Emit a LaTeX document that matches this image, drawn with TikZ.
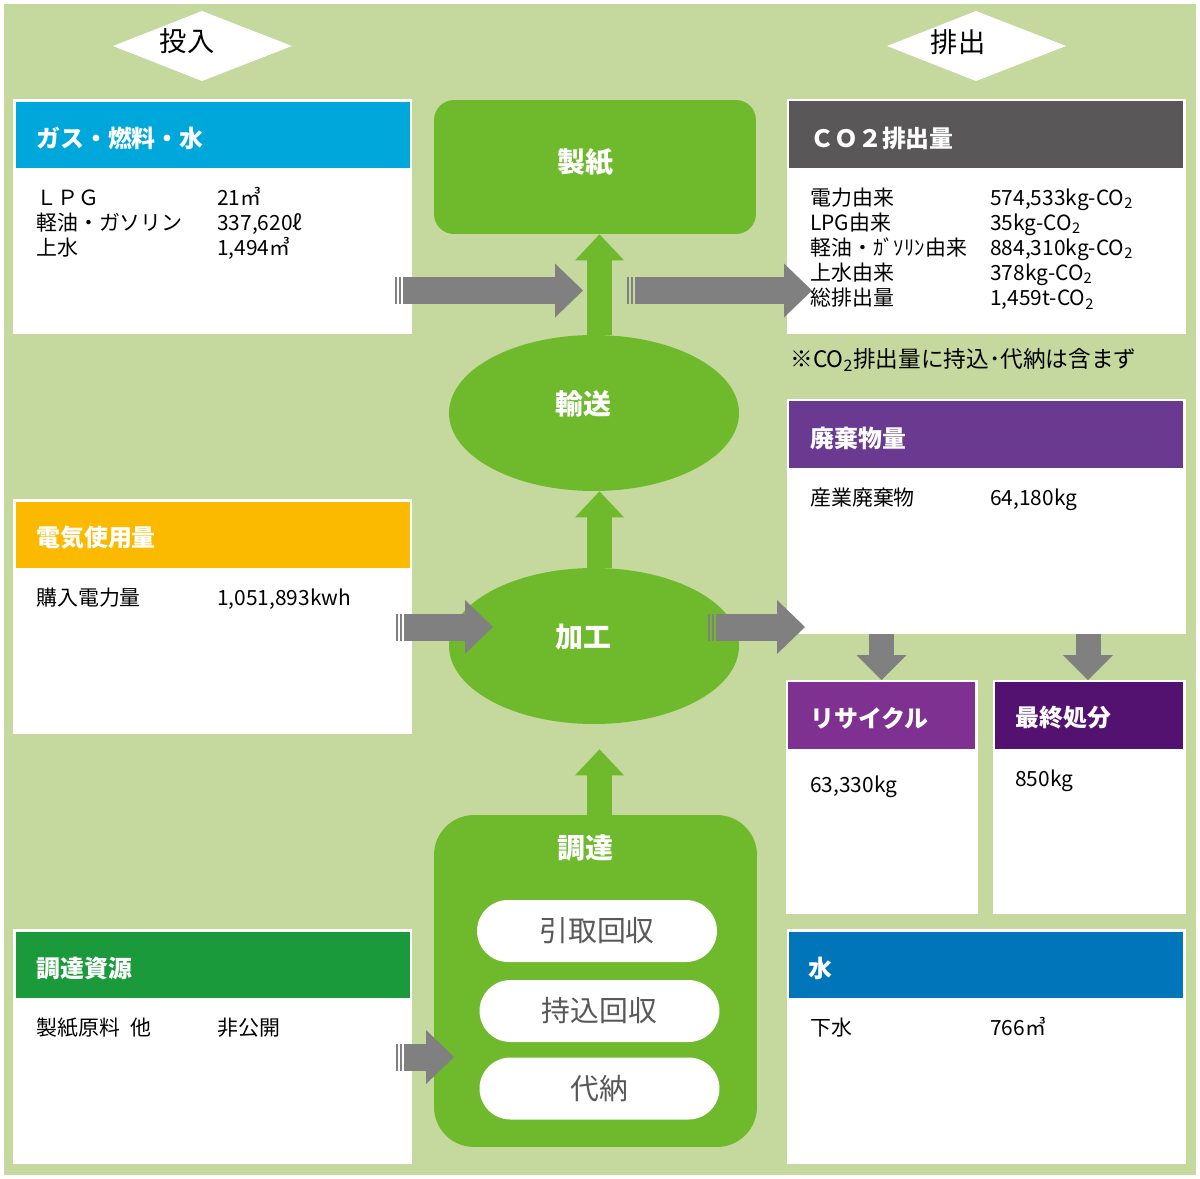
\documentclass[tikz,border=0pt]{standalone}
\usepackage{fontspec}
\setmainfont{Noto Sans CJK JP}
\usepackage{tikz}
\usetikzlibrary{shapes.geometric,arrows.meta,calc}

\definecolor{bggreen}{HTML}{C5D89E}
\definecolor{flowgreen}{HTML}{6FB92C}
\definecolor{arrgray}{HTML}{808080}
\definecolor{gasblue}{HTML}{00A7DB}
\definecolor{elecyellow}{HTML}{FBBA00}
\definecolor{resgreen}{HTML}{1B9A3C}
\definecolor{cogray}{HTML}{595757}
\definecolor{wastepurple}{HTML}{6A3990}
\definecolor{recyclepurple}{HTML}{7E3190}
\definecolor{finalpurple}{HTML}{541270}
\definecolor{waterblue}{HTML}{0075BA}
\definecolor{pilltext}{HTML}{595757}

\newcommand\txtbody{\fontsize{11.9}{14.3}\selectfont}
\newcommand\txthead{\fontsize{13.6}{16}\selectfont\bfseries}
\newcommand\txtcenter{\fontsize{15.9}{18}\selectfont\bfseries}
\newcommand\txtpill{\fontsize{16.4}{19}\selectfont}
\newcommand\txtdiamond{\fontsize{15.5}{18}\selectfont}
\newcommand\txtnote{\fontsize{12.9}{15}\selectfont}

% the striped tail of a gray arrow
\newcommand\tailstripes[1]{%
  \fill[arrgray] ($#1+(-8.5,-13.5)$) rectangle ($#1+(-6.3,13.5)$);
  \fill[arrgray] ($#1+(-4.5,-13.5)$) rectangle ($#1+(-2.2,13.5)$);}

\tikzset{
  grayarr/.style={draw=arrgray, line width=0.54cm, -{Triangle[length=0.56cm,width=1.08cm,line width=0pt]}},
  greenarr/.style={draw=flowgreen, line width=0.5cm, -{Triangle[length=0.52cm,width=0.98cm,line width=0pt]}},
  downarr/.style={draw=arrgray, line width=0.5cm, -{Triangle[length=0.5cm,width=1.0cm,line width=0pt]}},
  hdr/.style={anchor=west, inner sep=0, text=white, font=\txthead},
  body/.style={anchor=base west, inner sep=0, font=\txtbody},
  flow/.style={fill=flowgreen, inner sep=0},
  flowtitle/.style={text=white, font=\txtcenter, inner sep=0},
  pill/.style={fill=white, rounded corners=0.62cm, minimum width=4.8cm, minimum height=1.24cm, inner sep=0, text=pilltext, font=\txtpill},
}

\begin{document}
\begin{tikzpicture}[x=0.02cm,y=-0.02cm]
\useasboundingbox (0,0) rectangle (1200,1178);
\fill [white] (0,0) rectangle (1200,1178);
\fill [bggreen] (4,4) rectangle (1196,1175);

% heading diamonds
\fill [white] (113,46)--(202,11)--(292,46)--(202,81)--cycle;
\fill [white] (887,46)--(976,11)--(1066,46)--(976,81)--cycle;
\node [font=\txtdiamond, inner sep=0] (tonyu) at (187,41) {投入};
\node [font=\txtdiamond, inner sep=0] (haishutsu) at (958,42) {排出};

% input boxes
\fill [white] (13,99) rectangle (412,334);
\fill [gasblue] (16,102) rectangle (410,168);
\fill [white] (13,499) rectangle (412,734);
\fill [elecyellow] (16,502) rectangle (410,568);
\fill [white] (13,929) rectangle (412,1164);
\fill [resgreen] (16,932) rectangle (410,998);

% output boxes
\fill [white] (787,99) rectangle (1186,334);
\fill [cogray] (789,101) rectangle (1183,168);
\fill [white] (787,399) rectangle (1186,634);
\fill [wastepurple] (789,401) rectangle (1183,468);
\fill [white] (786,680) rectangle (978,914);
\fill [recyclepurple] (788,682) rectangle (975,749);
\fill [white] (993,680) rectangle (1186,914);
\fill [finalpurple] (995,682) rectangle (1183,749);
\fill [white] (787,929) rectangle (1186,1164);
\fill [waterblue] (789,932) rectangle (1183,998);

% the flow in the middle
\node [flow, rounded corners=0.4cm, minimum width=6.44cm, minimum height=2.68cm] (seishi) at (595,167) {};
\node [flow, ellipse, minimum width=5.8cm, minimum height=3.12cm] (yuso) at (594,413) {};
\node [flow, ellipse, minimum width=5.8cm, minimum height=3.12cm] (kako) at (594,646) {};
\node [flow, rounded corners=0.8cm, minimum width=6.46cm, minimum height=6.64cm] (chotatsu) at (595.5,981) {};
\node [flowtitle] (seishititle) at (585,162) {製紙};
\node [flowtitle] (yusotitle) at (583,404) {輸送};
\node [flowtitle] (kakotitle) at (583,637) {加工};
\node [flowtitle] (chotatsutitle) at (585,848) {調達};
\node [pill] (hikitori) at (597,931) {\raisebox{-2pt}{引取回収}};
\node [pill] (mochikomi) at (599.5,1011) {\raisebox{-2pt}{持込回収}};
\node [pill] (dainou) at (599.5,1088.5) {\raisebox{-2pt}{代納}};

\draw [greenarr] ($(yuso.north)+(5.5,0)$) -- ($(seishi.south)+(4.5,0)$);
\draw [greenarr] ($(kako.north)+(5.5,0)$) -- ($(yuso.south)+(5.5,0)$);
\draw [greenarr] ($(chotatsu.north)+(4,0)$) -- ($(kako.south)+(5.5,25)$);

% gray arrows
\coordinate (in1s) at (403,290.5);
\coordinate (in1e) at (583,290.5);
\coordinate (out1s) at (635,290.5);
\coordinate (out1e) at (812,290.5);
\coordinate (in2s) at (404,627);
\coordinate (in2e) at (493,627);
\coordinate (out2s) at (716,627);
\coordinate (out2e) at (805,627);
\coordinate (in3s) at (404,1057);
\coordinate (in3e) at (454,1057);
\coordinate (down1s) at (881.5,634);
\coordinate (down1e) at (881.5,680);
\coordinate (down2s) at (1088,634);
\coordinate (down2e) at (1088,680);
\draw [grayarr] (in1s) -- (in1e);
\tailstripes{(in1s)}
\draw [grayarr] (out1s) -- (out1e);
\tailstripes{(out1s)}
\draw [grayarr] (in2s) -- (in2e);
\tailstripes{(in2s)}
\draw [grayarr] (out2s) -- (out2e);
\tailstripes{(out2s)}
\draw [grayarr] (in3s) -- (in3e);
\tailstripes{(in3s)}
\draw [downarr] (down1s) -- (down1e);
\draw [downarr] (down2s) -- (down2e);

% headings
\node [hdr] (gastitle) at (36,138) {ガス・燃料・水};
\node [hdr] (electitle) at (36,538) {電気使用量};
\node [hdr] (restitle) at (36,968) {調達資源};
\node [hdr] (cotitle) at (810,138) {ＣＯ２排出量};
\node [hdr] (wastetitle) at (810,438) {廃棄物量};
\node [hdr] (recycletitle) at (810,718) {リサイクル};
\node [hdr] (finaltitle) at (1015,718) {最終処分};
\node [hdr] (watertitle) at (808,968) {水};

% figures
\node [body] (gasbody) at (36,205) {\begin{tabular}[t]{@{}p{3.62cm}@{}l@{}}
ＬＰＧ & 21㎥\\
軽油・ガソリン & 337,620ℓ\\
上水 & 1,494㎥
\end{tabular}};
\node [body] (elecbody) at (36,605) {\begin{tabular}[t]{@{}p{3.62cm}@{}l@{}}
購入電力量 & 1,051,893kwh
\end{tabular}};
\node [body] (resbody) at (36,1035) {\begin{tabular}[t]{@{}p{3.62cm}@{}l@{}}
製紙原料\hspace{0.5em}他 & 非公開
\end{tabular}};
\node [body] (cobody) at (810,205) {\begin{tabular}[t]{@{}p{3.6cm}@{}l@{}}
電力由来 & 574,533kg-CO\textsubscript{2}\\
LPG由来 & 35kg-CO\textsubscript{2}\\
軽油・ｶﾞｿﾘﾝ由来 & 884,310kg-CO\textsubscript{2}\\
上水由来 & 378kg-CO\textsubscript{2}\\
総排出量 & 1,459t-CO\textsubscript{2}
\end{tabular}};
\node [anchor=base west, inner sep=0, font=\txtnote] (conote) at (790,367) {※CO\textsubscript{2}排出量に持込･代納は含まず};
\node [body] (wastebody) at (810,505) {\begin{tabular}[t]{@{}p{3.6cm}@{}l@{}}
産業廃棄物 & 64,180kg
\end{tabular}};
\node [body] (recyclebody) at (810,792) {63,330kg};
\node [body] (finalbody) at (1015,786) {850kg};
\node [body] (waterbody) at (810,1035) {\begin{tabular}[t]{@{}p{3.6cm}@{}l@{}}
下水 & 766㎥
\end{tabular}};

\end{tikzpicture}
\end{document}
